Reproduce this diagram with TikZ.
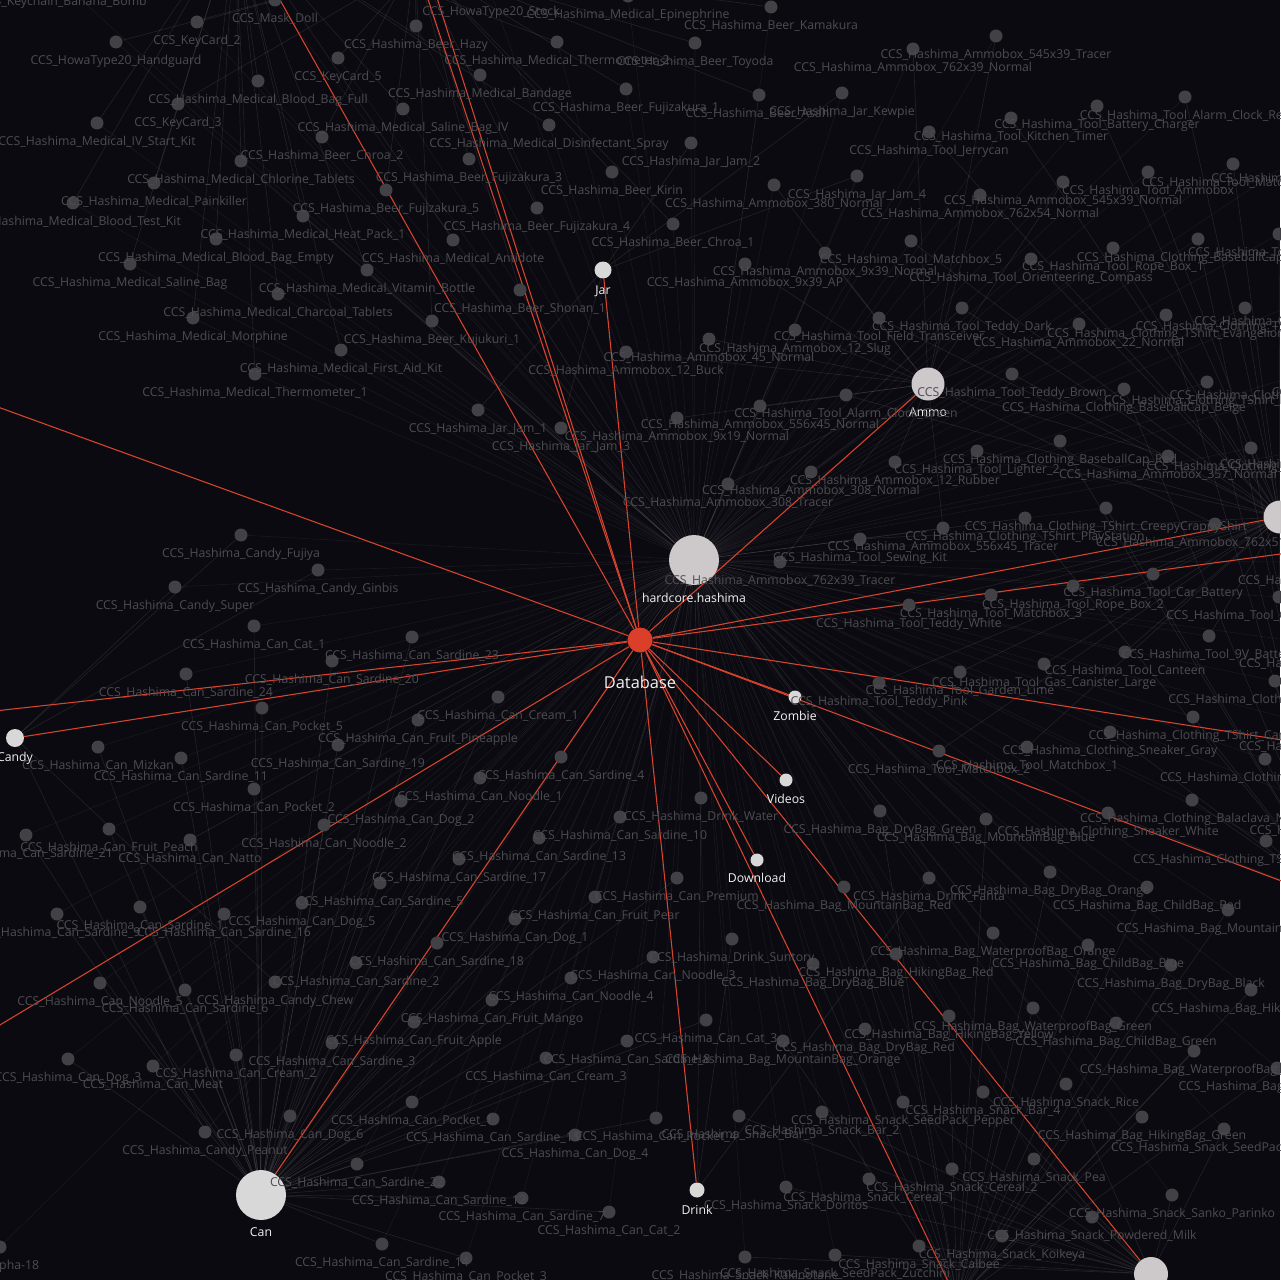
\documentclass[tikz,border=0pt]{standalone}
\usepackage{fontspec}
\setmainfont{Open Sans}

\definecolor{bgdark}{HTML}{0B0A10}
\definecolor{dotgray}{HTML}{424246}
\definecolor{txtgray}{HTML}{4C4C51}
\definecolor{hubgray}{HTML}{CDC8C9}
\definecolor{hubwhite}{HTML}{D8D8D8}
\definecolor{dbred}{HTML}{DB3F2A}
\definecolor{linkred}{HTML}{D9442F}

\pgfdeclarelayer{bg}
\pgfdeclarelayer{edges}
\pgfdeclarelayer{labels}
\pgfsetlayers{bg,edges,main,labels}

\begin{document}
\catcode`\_=12
% label centre x / label centre y / category hub / text  (dot sits 19px above the label)
\def\itemlist{%
63/2/keyhub/CCS_Keychain_Banana_Bomb,
275/19/keyhub/CCS_Mask_Doll,
491/12/keyhub/CCS_HowaType20_Stock,
197/41/keyhub/CCS_KeyCard_2,
116/61/keyhub/CCS_HowaType20_Handguard,
338/77/keyhub/CCS_KeyCard_5,
178/123/keyhub/CCS_KeyCard_3,
0/1266/lowhub/CCS_Alpha-18,
628/15/medhub/CCS_Hashima_Medical_Epinephrine,
557/61/medhub/CCS_Hashima_Medical_Thermometer_2,
258/100/medhub/CCS_Hashima_Medical_Blood_Bag_Full,
480/94/medhub/CCS_Hashima_Medical_Bandage,
403/128/medhub/CCS_Hashima_Medical_Saline_Bag_IV,
97/142/medhub/CCS_Hashima_Medical_IV_Start_Kit,
549/144/medhub/CCS_Hashima_Medical_Disinfectant_Spray,
241/180/medhub/CCS_Hashima_Medical_Chlorine_Tablets,
154/202/medhub/CCS_Hashima_Medical_Painkiller,
73/222/medhub/CCS_Hashima_Medical_Blood_Test_Kit,
303/235/medhub/CCS_Hashima_Medical_Heat_Pack_1,
216/258/medhub/CCS_Hashima_Medical_Blood_Bag_Empty,
453/259/medhub/CCS_Hashima_Medical_Antidote,
130/283/medhub/CCS_Hashima_Medical_Saline_Bag,
367/289/medhub/CCS_Hashima_Medical_Vitamin_Bottle,
278/313/medhub/CCS_Hashima_Medical_Charcoal_Tablets,
193/337/medhub/CCS_Hashima_Medical_Morphine,
341/369/medhub/CCS_Hashima_Medical_First_Aid_Kit,
255/393/medhub/CCS_Hashima_Medical_Thermometer_1,
771/26/beerhub/CCS_Hashima_Beer_Kamakura,
416/45/beerhub/CCS_Hashima_Beer_Hazy,
695/62/beerhub/CCS_Hashima_Beer_Toyoda,
626/108/beerhub/CCS_Hashima_Beer_Fujizakura_1,
759/114/beerhub/CCS_Hashima_Beer_Asahi,
322/156/beerhub/CCS_Hashima_Beer_Chroa_2,
469/178/beerhub/CCS_Hashima_Beer_Fujizakura_3,
612/191/beerhub/CCS_Hashima_Beer_Kirin,
386/209/beerhub/CCS_Hashima_Beer_Fujizakura_5,
537/227/beerhub/CCS_Hashima_Beer_Fujizakura_4,
673/243/beerhub/CCS_Hashima_Beer_Chroa_1,
520/309/beerhub/CCS_Hashima_Beer_Shonan_1,
432/340/beerhub/CCS_Hashima_Beer_Kujukuri_1,
842/112/jar/CCS_Hashima_Jar_Kewpie,
691/162/jar/CCS_Hashima_Jar_Jam_2,
857/195/jar/CCS_Hashima_Jar_Jam_4,
478/429/jar/CCS_Hashima_Jar_Jam_1,
561/447/jar/CCS_Hashima_Jar_Jam_3,
996/55/ammo/CCS_Hashima_Ammobox_545x39_Tracer,
913/68/ammo/CCS_Hashima_Ammobox_762x39_Normal,
774/204/ammo/CCS_Hashima_Ammobox_380_Normal,
1063/201/ammo/CCS_Hashima_Ammobox_545x39_Normal,
980/214/ammo/CCS_Hashima_Ammobox_762x54_Normal,
825/272/ammo/CCS_Hashima_Ammobox_9x39_Normal,
745/283/ammo/CCS_Hashima_Ammobox_9x39_AP,
795/349/ammo/CCS_Hashima_Ammobox_12_Slug,
709/358/ammo/CCS_Hashima_Ammobox_45_Normal,
1079/343/ammo/CCS_Hashima_Ammobox_22_Normal,
626/371/ammo/CCS_Hashima_Ammobox_12_Buck,
760/425/ammo/CCS_Hashima_Ammobox_556x45_Normal,
677/437/ammo/CCS_Hashima_Ammobox_9x19_Normal,
1168/475/ammo/CCS_Hashima_Ammobox_357_Normal,
895/481/ammo/CCS_Hashima_Ammobox_12_Rubber,
811/491/ammo/CCS_Hashima_Ammobox_308_Normal,
728/503/ammo/CCS_Hashima_Ammobox_308_Tracer,
1215/543/ammo/CCS_Hashima_Ammobox_762x51_Normal,
943/547/ammo/CCS_Hashima_Ammobox_556x45_Tracer,
780/581/ammo/CCS_Hashima_Ammobox_762x39_Tracer,
1185/116/toolhub/CCS_Hashima_Tool_Alarm_Clock_Red,
1097/125/toolhub/CCS_Hashima_Tool_Battery_Charger,
1011/137/toolhub/CCS_Hashima_Tool_Kitchen_Timer,
929/151/toolhub/CCS_Hashima_Tool_Jerrycan,
1233/183/toolhub/CCS_Hashima_Tool_Matchbox_4,
1294/179/toolhub/CCS_Hashima_Tool_Lighter_1,
1148/191/toolhub/CCS_Hashima_Tool_Ammobox,
911/260/toolhub/CCS_Hashima_Tool_Matchbox_5,
1113/267/toolhub/CCS_Hashima_Tool_Rope_Box_1,
1279/253/toolhub/CCS_Hashima_Tool_Rope_Box_3,
1031/278/toolhub/CCS_Hashima_Tool_Orienteering_Compass,
962/327/toolhub/CCS_Hashima_Tool_Teddy_Dark,
879/337/toolhub/CCS_Hashima_Tool_Field_Transceiver,
1012/393/toolhub/CCS_Hashima_Tool_Teddy_Brown,
846/414/toolhub/CCS_Hashima_Tool_Alarm_Clock_Green,
977/470/toolhub/CCS_Hashima_Tool_Lighter_2,
860/558/toolhub/CCS_Hashima_Tool_Sewing_Kit,
1317/581/toolhub/CCS_Hashima_Tool_Hatchet,
1153/593/toolhub/CCS_Hashima_Tool_Car_Battery,
1073/605/toolhub/CCS_Hashima_Tool_Rope_Box_2,
991/614/toolhub/CCS_Hashima_Tool_Matchbox_3,
1279/616/toolhub/CCS_Hashima_Tool_Cassette_Gas_Stove,
909/624/toolhub/CCS_Hashima_Tool_Teddy_White,
1209/655/toolhub/CCS_Hashima_Tool_9V_Battery,
1325/664/toolhub/CCS_Hashima_Tool_Headlamp,
1125/671/toolhub/CCS_Hashima_Tool_Canteen,
1044/683/toolhub/CCS_Hashima_Tool_Gas_Canister_Large,
960/691/toolhub/CCS_Hashima_Tool_Garden_Lime,
879/702/toolhub/CCS_Hashima_Tool_Teddy_Pink,
1027/766/toolhub/CCS_Hashima_Tool_Matchbox_1,
939/770/toolhub/CCS_Hashima_Tool_Matchbox_2,
1198/258/clothhub/CCS_Hashima_Clothing_BaseballCap_Black,
1245/327/clothhub/CCS_Hashima_Clothing_TShirt_Zombie,
1297/322/clothhub/CCS_Hashima_Clothing_Hoodie_Red,
1166/334/clothhub/CCS_Hashima_Clothing_TShirt_Evangelion,
1207/401/clothhub/CCS_Hashima_Clothing_TShirt_Black,
1292/396/clothhub/CCS_Hashima_Clothing_TShirt_Gunkanjima,
1365/393/clothhub/CCS_Hashima_Clothing_Cap_Red,
1124/408/clothhub/CCS_Hashima_Clothing_BaseballCap_Beige,
1060/460/clothhub/CCS_Hashima_Clothing_BaseballCap_Red,
1251/467/clothhub/CCS_Hashima_Clothing_TShirt_White,
1329/465/clothhub/CCS_Hashima_Clothing_Sneaker_Black,
1106/527/clothhub/CCS_Hashima_Clothing_TShirt_CreepyCrappyShirt,
1025/537/clothhub/CCS_Hashima_Clothing_TShirt_PlayStation,
1275/700/clothhub/CCS_Hashima_Clothing_Hoodie_Black,
1193/736/clothhub/CCS_Hashima_Clothing_TShirt_Camo,
1324/747/clothhub/CCS_Hashima_Clothing_Jacket,
1110/751/clothhub/CCS_Hashima_Clothing_Sneaker_Gray,
1265/778/clothhub/CCS_Hashima_Clothing_Sneaker_Red,
1192/819/clothhub/CCS_Hashima_Clothing_Balaclava_Navy,
1108/832/clothhub/CCS_Hashima_Clothing_Sneaker_White,
1337/831/clothhub/CCS_Hashima_Clothing_Gloves,
1266/860/clothhub/CCS_Hashima_Clothing_TShirt_Hashima_Island,
880/830/baghub/CCS_Hashima_Bag_DryBag_Green,
986/838/baghub/CCS_Hashima_Bag_MountainBag_Blue,
1050/891/baghub/CCS_Hashima_Bag_DryBag_Orange,
844/906/baghub/CCS_Hashima_Bag_MountainBag_Red,
1147/906/baghub/CCS_Hashima_Bag_ChildBag_Red,
1228/929/baghub/CCS_Hashima_Bag_MountainBag_Black,
993/952/baghub/CCS_Hashima_Bag_WaterproofBag_Orange,
1088/964/baghub/CCS_Hashima_Bag_ChildBag_Blue,
896/973/baghub/CCS_Hashima_Bag_HikingBag_Red,
813/983/baghub/CCS_Hashima_Bag_DryBag_Blue,
1171/984/baghub/CCS_Hashima_Bag_DryBag_Black,
1251/1009/baghub/CCS_Hashima_Bag_HikingBag_Blue,
1033/1027/baghub/CCS_Hashima_Bag_WaterproofBag_Green,
949/1035/baghub/CCS_Hashima_Bag_HikingBag_Yellow,
1116/1042/baghub/CCS_Hashima_Bag_ChildBag_Green,
865/1048/baghub/CCS_Hashima_Bag_DryBag_Red,
783/1060/baghub/CCS_Hashima_Bag_MountainBag_Orange,
1194/1070/baghub/CCS_Hashima_Bag_WaterproofBag_Blue,
1277/1087/baghub/CCS_Hashima_Bag_ChildBag_Black,
1142/1136/baghub/CCS_Hashima_Bag_HikingBag_Green,
701/817/drink/CCS_Hashima_Drink_Water,
929/897/drink/CCS_Hashima_Drink_Fanta,
732/958/drink/CCS_Hashima_Drink_Suntory,
1066/1103/snack/CCS_Hashima_Snack_Rice,
983/1111/snack/CCS_Hashima_Snack_Bar_4,
903/1121/snack/CCS_Hashima_Snack_SeedPack_Pepper,
822/1131/snack/CCS_Hashima_Snack_Bar_2,
739/1135/snack/CCS_Hashima_Snack_Bar_3,
1224/1148/snack/CCS_Hashima_Snack_SeedPack_Tomato,
1034/1178/snack/CCS_Hashima_Snack_Pea,
952/1188/snack/CCS_Hashima_Snack_Cereal_2,
869/1198/snack/CCS_Hashima_Snack_Cereal_1,
786/1206/snack/CCS_Hashima_Snack_Doritos,
1172/1214/snack/CCS_Hashima_Snack_Sanko_Parinko,
1092/1236/snack/CCS_Hashima_Snack_Powdered_Milk,
1002/1255/snack/CCS_Hashima_Snack_Koikeya,
919/1265/snack/CCS_Hashima_Snack_Calbee,
835/1274/snack/CCS_Hashima_Snack_SeedPack_Zucchini,
745/1276/snack/CCS_Hashima_Snack_Kakinotane,
241/554/candy/CCS_Hashima_Candy_Fujiya,
318/589/candy/CCS_Hashima_Candy_Ginbis,
175/606/candy/CCS_Hashima_Candy_Super,
275/1001/candy/CCS_Hashima_Candy_Chew,
205/1151/candy/CCS_Hashima_Candy_Peanut,
254/645/can/CCS_Hashima_Can_Cat_1,
412/656/can/CCS_Hashima_Can_Sardine_23,
332/680/can/CCS_Hashima_Can_Sardine_20,
186/693/can/CCS_Hashima_Can_Sardine_24,
498/716/can/CCS_Hashima_Can_Cream_1,
262/727/can/CCS_Hashima_Can_Pocket_5,
418/739/can/CCS_Hashima_Can_Fruit_Pineapple,
338/764/can/CCS_Hashima_Can_Sardine_19,
98/766/can/CCS_Hashima_Can_Mizkan,
561/776/can/CCS_Hashima_Can_Sardine_4,
181/777/can/CCS_Hashima_Can_Sardine_11,
480/797/can/CCS_Hashima_Can_Noodle_1,
254/808/can/CCS_Hashima_Can_Pocket_2,
401/820/can/CCS_Hashima_Can_Dog_2,
620/836/can/CCS_Hashima_Can_Sardine_10,
324/844/can/CCS_Hashima_Can_Noodle_2,
109/848/can/CCS_Hashima_Can_Fruit_Peach,
26/854/can/CCS_Hashima_Can_Sardine_21,
539/857/can/CCS_Hashima_Can_Sardine_13,
190/859/can/CCS_Hashima_Can_Natto,
459/878/can/CCS_Hashima_Can_Sardine_17,
677/897/can/CCS_Hashima_Can_Premium,
380/902/can/CCS_Hashima_Can_Sardine_5,
595/916/can/CCS_Hashima_Can_Fruit_Pear,
302/922/can/CCS_Hashima_Can_Dog_5,
140/926/can/CCS_Hashima_Can_Sardine_1,
57/933/can/CCS_Hashima_Can_Sardine_9,
224/933/can/CCS_Hashima_Can_Sardine_16,
515/938/can/CCS_Hashima_Can_Dog_1,
437/962/can/CCS_Hashima_Can_Sardine_18,
653/976/can/CCS_Hashima_Can_Noodle_3,
356/982/can/CCS_Hashima_Can_Sardine_2,
571/997/can/CCS_Hashima_Can_Noodle_4,
100/1002/can/CCS_Hashima_Can_Noodle_5,
185/1009/can/CCS_Hashima_Can_Sardine_6,
492/1019/can/CCS_Hashima_Can_Fruit_Mango,
706/1039/can/CCS_Hashima_Can_Cat_3,
414/1041/can/CCS_Hashima_Can_Fruit_Apple,
627/1060/can/CCS_Hashima_Can_Sardine_8,
332/1062/can/CCS_Hashima_Can_Sardine_3,
236/1074/can/CCS_Hashima_Can_Cream_2,
546/1077/can/CCS_Hashima_Can_Cream_3,
68/1078/can/CCS_Hashima_Can_Dog_3,
153/1085/can/CCS_Hashima_Can_Meat,
412/1121/can/CCS_Hashima_Can_Pocket_1,
290/1135/can/CCS_Hashima_Can_Dog_6,
656/1137/can/CCS_Hashima_Can_Pocket_4,
493/1138/can/CCS_Hashima_Can_Sardine_15,
575/1154/can/CCS_Hashima_Can_Dog_4,
357/1183/can/CCS_Hashima_Can_Sardine_22,
439/1201/can/CCS_Hashima_Can_Sardine_12,
522/1217/can/CCS_Hashima_Can_Sardine_7,
609/1231/can/CCS_Hashima_Can_Cat_2,
382/1263/can/CCS_Hashima_Can_Sardine_14,
466/1277/can/CCS_Hashima_Can_Pocket_3}
\begin{tikzpicture}[x=0.75pt,y=-0.75pt,
    every node/.style={inner sep=0pt},
    item/.style={circle,fill=dotgray,minimum size=9.75pt},
    hub/.style={circle,fill=hubwhite,minimum size=#1},
    lbl/.style={text=txtgray,font=\fontsize{9.2}{11}\selectfont},
    hublbl/.style={text=white!90!gray,font=\fontsize{9.2}{11}\selectfont},
    link/.style={white,opacity=0.09,line width=0.5pt},
    rootlink/.style={white,opacity=0.055,line width=0.5pt},
    redlink/.style={linkred,line width=0.8pt}]
  \useasboundingbox (0,0) rectangle (1280,1280);
  \begin{pgfonlayer}{bg}
    \fill[bgdark] (0,0) rectangle (1280,1280);
  \end{pgfonlayer}

  % hubs
  \node[hub=37.5pt,fill=hubgray] (hc)       at (694,560)  {};
  \node[hub=18.75pt,fill=dbred]  (db)       at (640,640)  {};
  \node[hub=12.75pt]             (jar)      at (603,270)  {};
  \node[hub=24.75pt,fill=hubgray](ammo)     at (928,384)  {};
  \node[hub=9.75pt]              (zombie)   at (795,697)  {};
  \node[hub=9.75pt]              (videos)   at (786,780)  {};
  \node[hub=9.75pt]              (download) at (757,860)  {};
  \node[hub=11.25pt]             (drink)    at (697,1190) {};
  \node[hub=37.5pt]              (can)      at (261,1195) {};
  \node[hub=13.5pt]              (candy)    at (15,738)   {};
  \node[hub=24.75pt,fill=hubgray](toolhub)  at (1280,517) {};
  \node[hub=25.5pt,fill=hubgray] (snack)    at (1151,1274){};
  % hubs off the page
  \coordinate (medhub)   at (235,-80);
  \coordinate (beerhub)  at (415,-40);
  \coordinate (keyhub)   at (425,-40);
  \coordinate (lefthub)  at (-60,386);
  \coordinate (farhub)   at (-60,717);
  \coordinate (lowhub)   at (-60,1061);
  \coordinate (rhubA)    at (1340,546);
  \coordinate (rhubB)    at (1340,749);
  \coordinate (clothhub) at (1340,903);
  \coordinate (baghub)   at (957,1300);

  \begin{pgfonlayer}{labels}
    \node[hublbl] (hclbl)       at (694,598)  {hardcore.hashima};
    \node[hublbl,font=\fontsize{12.3}{14}\selectfont] (dblbl) at (640,682) {Database};
    \node[hublbl] (jarlbl)      at (603,291)  {Jar};
    \node[hublbl] (ammolbl)     at (928,412)  {Ammo};
    \node[hublbl] (zombielbl)   at (795,716)  {Zombie};
    \node[hublbl] (videoslbl)   at (786,799)  {Videos};
    \node[hublbl] (downloadlbl) at (757,878)  {Download};
    \node[hublbl] (drinklbl)    at (697,1210) {Drink};
    \node[hublbl] (canlbl)      at (261,1232) {Can};
    \node[hublbl] (candylbl)    at (15,758)   {Candy};
  \end{pgfonlayer}

  % items
  \foreach \x/\y/\hb/\txt [count=\k] in \itemlist {
    \node[item] (d\k) at (\x,{\y-19}) {};
    \begin{pgfonlayer}{labels}
      \node[lbl] (t\k) at (\x,\y) {\txt};
    \end{pgfonlayer}
    \begin{pgfonlayer}{edges}
      \draw[link] (d\k) -- (\hb);
      \draw[rootlink] (d\k) -- (hc);
    \end{pgfonlayer}
  }

  \begin{pgfonlayer}{edges}
    \draw[rootlink] (db) -- (hc);
    \foreach \e in {medhub,beerhub,keyhub,jar,ammo,toolhub,rhubA,rhubB,clothhub,
                    zombie,videos,download,baghub,snack,drink,can,lowhub,candy,farhub,lefthub}
      \draw[redlink] (db) -- (\e);
  \end{pgfonlayer}
\end{tikzpicture}
\end{document}
